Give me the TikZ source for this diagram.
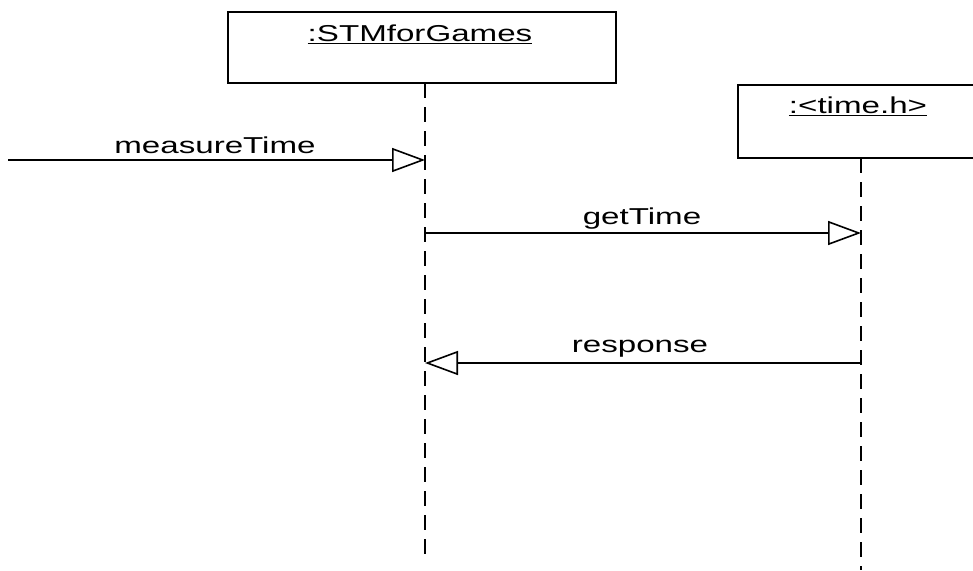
\documentclass[tikz,border=0pt]{standalone}
\usepackage{fontspec}
\setmainfont{Liberation Sans}
\usetikzlibrary{arrows.meta}
\tikzset{
  objbox/.style={draw=black, line width=1.5pt, fill=white, inner sep=0pt},
  objtext/.style={inner sep=0pt, font=\fontsize{23}{25}\selectfont},
  lifeline/.style={draw=black, line width=1.6pt, dash pattern=on 15pt off 9pt},
  msg/.style={draw=black, line width=1.3pt, -{Triangle[open, length=33pt, width=24pt, line width=1.6pt]}},
  msgtext/.style={inner sep=0pt, font=\fontsize{23}{25}\selectfont},
}
\newcommand{\wtext}[1]{\scalebox{1.44}[1]{#1}}
\begin{document}
\begin{tikzpicture}[x=1pt, y=-1pt]
\useasboundingbox (0,0) rectangle (973,570);
\clip (0,0) rectangle (973,570);
% objects
\node[objbox, minimum width=388pt, minimum height=71pt] (box1) at (422,47.5) {};
\node[objtext] (t1) at (420,34) {\wtext{\underline{:STMforGames}}};
\node[objbox, minimum width=250pt, minimum height=73pt] (box2) at (863,121.5) {};
\node[objtext] (t2) at (858,106) {\wtext{\underline{:<time.h>}}};
% lifelines
\coordinate (l1top) at (425,83);
\coordinate (l1bot) at (425,558);
\coordinate (l2top) at (861,158);
\coordinate (l2bot) at (861,570);
\draw[lifeline] (l1top) -- (l1bot);
\draw[lifeline] (l2top) -- (l2bot);
% messages
\coordinate (m1s) at (8,160);
\coordinate (m1e) at (425,160);
\coordinate (m2s) at (425,233);
\coordinate (m2e) at (861,233);
\coordinate (m3s) at (861,363);
\coordinate (m3e) at (425,363);
\draw[msg] (m1s) -- (m1e);
\draw[msg] (m2s) -- (m2e);
\draw[msg] (m3s) -- (m3e);
\node[msgtext] (lab1) at (215,145) {\wtext{measureTime}};
\node[msgtext] (lab2) at (642,219) {\wtext{getTime}};
\node[msgtext] (lab3) at (640,349) {\wtext{response}};
\end{tikzpicture}
\end{document}
